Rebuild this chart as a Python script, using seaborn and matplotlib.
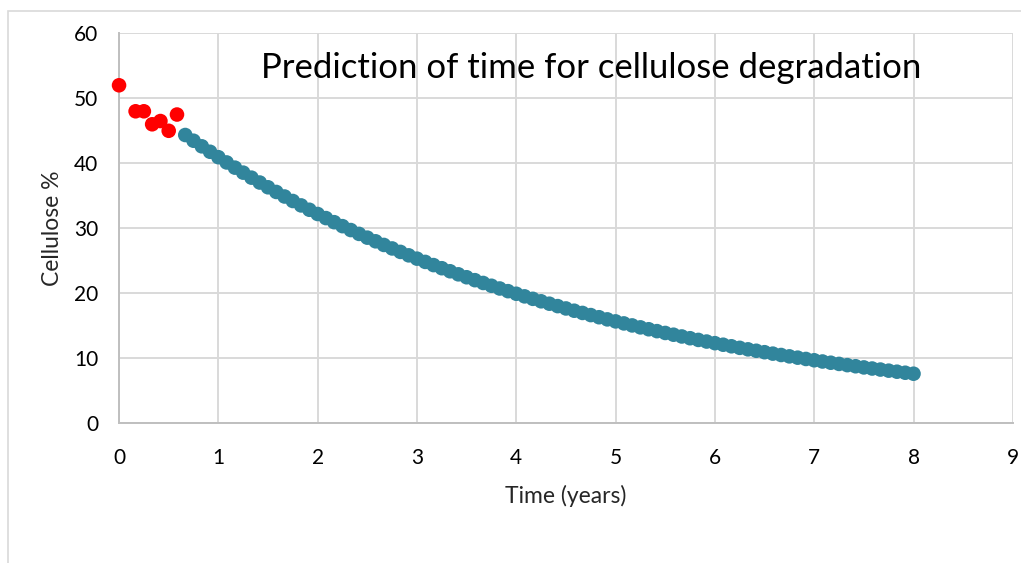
import matplotlib
matplotlib.use("Agg")
import matplotlib.pyplot as plt
import seaborn as sns
import pandas as pd
from matplotlib.patches import Rectangle

# Measured cellulose content (first months)
measured_months = [0, 2, 3, 4, 5, 6, 7]
measured_cellulose = [52.0, 48.0, 48.0, 46.0, 46.5, 45.0, 47.5]

# Predicted cellulose content, monthly from month 8 to month 96
predicted_months = list(range(8, 97))
predicted_cellulose = [
    44.35, 43.47, 42.61, 41.77, 40.94, 40.13, 39.33, 38.56, 37.79, 37.04,
    36.31, 35.59, 34.89, 34.20, 33.52, 32.85, 32.20, 31.57, 30.94, 30.33,
    29.73, 29.14, 28.56, 28.00, 27.44, 26.90, 26.37, 25.84, 25.33, 24.83,
    24.34, 23.86, 23.39, 22.92, 22.47, 22.02, 21.59, 21.16, 20.74, 20.33,
    19.93, 19.53, 19.15, 18.77, 18.40, 18.03, 17.67, 17.32, 16.98, 16.65,
    16.32, 15.99, 15.68, 15.37, 15.06, 14.76, 14.47, 14.18, 13.90, 13.63,
    13.36, 13.09, 12.83, 12.58, 12.33, 12.09, 11.85, 11.61, 11.38, 11.16,
    10.94, 10.72, 10.51, 10.30, 10.10, 9.90, 9.70, 9.51, 9.32, 9.14,
    8.95, 8.78, 8.60, 8.43, 8.27, 8.10, 7.94, 7.78, 7.63,
]

x_ticks = [0, 1, 2, 3, 4, 5, 6, 7, 8, 9]
y_ticks = [0, 10, 20, 30, 40, 50, 60]

title_text = "Prediction of time for cellulose degradation"
x_label = "Time (years)"
y_label = "Cellulose %"

measured = pd.DataFrame({"years": [m / 12 for m in measured_months],
                         "cellulose": measured_cellulose})
predicted = pd.DataFrame({"years": [m / 12 for m in predicted_months],
                          "cellulose": predicted_cellulose})

sns.set_style("white")
plt.rcParams["font.family"] = ["Lato", "DejaVu Sans"]

fig = plt.figure(figsize=(10.21, 5.63), dpi=100)
ax = fig.add_axes([0.1166, 0.2481, 0.8754, 0.6928])

grid_color = "#D9D9D9"
ax.set_axisbelow(True)
ax.grid(True, color=grid_color, linewidth=1.4)

sns.scatterplot(data=predicted, x="years", y="cellulose", ax=ax,
                color="#31859C", s=110, edgecolor="none", zorder=3)
sns.scatterplot(data=measured, x="years", y="cellulose", ax=ax,
                color="#FF0000", s=110, edgecolor="none", zorder=4,
                clip_on=False)

ax.set_xlim(0, 9)
ax.set_ylim(0, 60)
ax.set_xticks(x_ticks)
ax.set_yticks(y_ticks)
ax.tick_params(axis="both", length=0, labelsize=15, colors="#000000")
ax.tick_params(axis="x", pad=18)
ax.tick_params(axis="y", pad=15)

for side in ["top", "right"]:
    ax.spines[side].set_visible(False)
for side in ["left", "bottom"]:
    ax.spines[side].set_color("#BFBFBF")
    ax.spines[side].set_linewidth(1.4)

ax.set_xlabel(x_label, fontsize=16.5, labelpad=12)
ax.set_ylabel(y_label, fontsize=16.5, labelpad=8)

ax.text(0.5285, 0.911, title_text, transform=ax.transAxes, fontsize=25,
        ha="center", va="center", color="#000000")

# Light frame around the chart area
fig.patches.append(Rectangle((8 / 1021, -0.1), 1.2, 1 - 11 / 563 + 0.1,
                             transform=fig.transFigure, fill=False,
                             edgecolor="#D9D9D9", linewidth=1.2))

fig.savefig("out.png", dpi=100)
